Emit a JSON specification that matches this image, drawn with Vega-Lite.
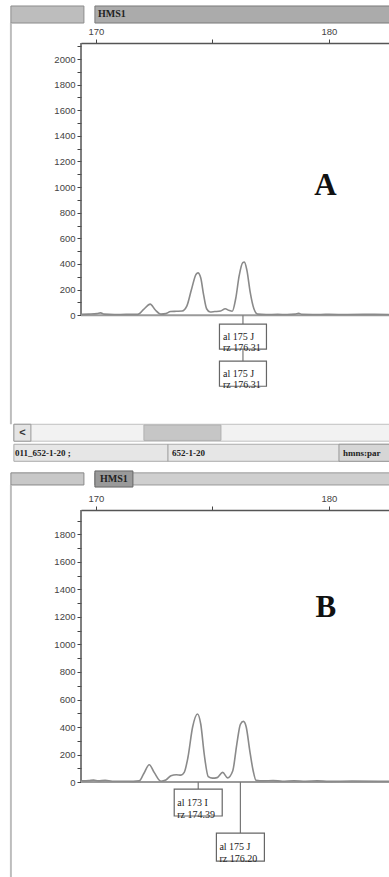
{
  "$schema": "https://vega.github.io/schema/vega-lite/v6.json",
  "background": "white",
  "padding": {"left": 9, "top": 5, "right": 0, "bottom": 0},
  "spacing": 8,
  "config": {
    "view": {"stroke": null},
    "axis": {"grid": false, "labelFont": "Liberation Sans", "labelFontSize": 9.5, "labelColor": "#444", "tickColor": "#444", "domainColor": "#555", "labelOverlap": false, "labelBound": false}
  },
  "datasets": {
    "traceA": [
      {"s": 169.40, "rfu": 6}, {"s": 169.70, "rfu": 8}, {"s": 170.05, "rfu": 12}, {"s": 170.20, "rfu": 18},
      {"s": 170.35, "rfu": 8}, {"s": 170.80, "rfu": 5}, {"s": 171.30, "rfu": 6}, {"s": 171.79, "rfu": 6},
      {"s": 172.05, "rfu": 45}, {"s": 172.33, "rfu": 86}, {"s": 172.55, "rfu": 40}, {"s": 172.79, "rfu": 8},
      {"s": 173.00, "rfu": 12}, {"s": 173.20, "rfu": 28}, {"s": 173.45, "rfu": 30}, {"s": 173.70, "rfu": 32},
      {"s": 173.90, "rfu": 70}, {"s": 174.10, "rfu": 200}, {"s": 174.30, "rfu": 320}, {"s": 174.38, "rfu": 330},
      {"s": 174.50, "rfu": 290}, {"s": 174.62, "rfu": 160}, {"s": 174.75, "rfu": 50}, {"s": 174.90, "rfu": 25},
      {"s": 175.10, "rfu": 28}, {"s": 175.35, "rfu": 32}, {"s": 175.55, "rfu": 50}, {"s": 175.70, "rfu": 38},
      {"s": 175.85, "rfu": 30}, {"s": 176.00, "rfu": 130}, {"s": 176.15, "rfu": 310}, {"s": 176.30, "rfu": 410},
      {"s": 176.37, "rfu": 414}, {"s": 176.48, "rfu": 350}, {"s": 176.62, "rfu": 180}, {"s": 176.78, "rfu": 50},
      {"s": 176.94, "rfu": 8}, {"s": 177.30, "rfu": 5}, {"s": 177.80, "rfu": 6}, {"s": 178.20, "rfu": 5},
      {"s": 178.55, "rfu": 8}, {"s": 178.70, "rfu": 14}, {"s": 178.85, "rfu": 6}, {"s": 179.30, "rfu": 5},
      {"s": 180.00, "rfu": 6}, {"s": 180.80, "rfu": 5}, {"s": 181.50, "rfu": 6}, {"s": 182.60, "rfu": 5}
    ],
    "traceB": [
      {"s": 169.40, "rfu": 8}, {"s": 169.70, "rfu": 10}, {"s": 169.90, "rfu": 14}, {"s": 170.10, "rfu": 8},
      {"s": 170.40, "rfu": 12}, {"s": 170.70, "rfu": 6}, {"s": 171.20, "rfu": 6}, {"s": 171.60, "rfu": 5},
      {"s": 171.86, "rfu": 8}, {"s": 172.05, "rfu": 60}, {"s": 172.29, "rfu": 126}, {"s": 172.50, "rfu": 70},
      {"s": 172.79, "rfu": 6}, {"s": 173.00, "rfu": 15}, {"s": 173.22, "rfu": 45}, {"s": 173.45, "rfu": 53},
      {"s": 173.65, "rfu": 50}, {"s": 173.79, "rfu": 70}, {"s": 173.95, "rfu": 180}, {"s": 174.15, "rfu": 400},
      {"s": 174.36, "rfu": 495}, {"s": 174.50, "rfu": 420}, {"s": 174.65, "rfu": 200}, {"s": 174.82, "rfu": 40},
      {"s": 175.00, "rfu": 28}, {"s": 175.20, "rfu": 32}, {"s": 175.44, "rfu": 70}, {"s": 175.65, "rfu": 30},
      {"s": 175.87, "rfu": 80}, {"s": 176.05, "rfu": 280}, {"s": 176.20, "rfu": 420}, {"s": 176.33, "rfu": 441},
      {"s": 176.45, "rfu": 400}, {"s": 176.60, "rfu": 230}, {"s": 176.75, "rfu": 80}, {"s": 176.87, "rfu": 12},
      {"s": 177.20, "rfu": 8}, {"s": 177.60, "rfu": 10}, {"s": 178.00, "rfu": 6}, {"s": 178.50, "rfu": 9},
      {"s": 179.00, "rfu": 6}, {"s": 179.50, "rfu": 8}, {"s": 180.00, "rfu": 5}, {"s": 181.00, "rfu": 7},
      {"s": 182.60, "rfu": 5}
    ],
    "callsA": [
      {"size": 176.31, "label": "al 175 J\nrz 176.31", "level": 1},
      {"size": 176.31, "label": "al 175 J\nrz 176.31", "level": 2}
    ],
    "callsB": [
      {"size": 174.39, "label": "al 173 I\nrz 174.39", "level": 1},
      {"size": 176.20, "label": "al 175 J\nrz 176.20", "level": 2}
    ],
    "frameA": [{"panel": "A"}],
    "frameB": [{"panel": "B"}]
  },
  "vconcat": [
    {
      "width": 309,
      "height": 349,
      "data": {"name": "frameA"},
      "layer": [
        {"mark": {"type": "rect", "fill": "#bdbdbd", "stroke": "#8c8c8c", "strokeWidth": 1},
         "encoding": {"x": {"datum": 166.352}, "x2": {"datum": 169.485}, "y": {"datum": 2414}, "y2": {"datum": 2281}}},
        {"mark": {"type": "rect", "fill": "#ababab", "stroke": "#7a7a7a", "strokeWidth": 1},
         "encoding": {"x": {"datum": 169.957}, "x2": {"datum": 182.62}, "y": {"datum": 2414}, "y2": {"datum": 2281}}},
        {"mark": {"type": "text", "text": "HMS1", "align": "left", "baseline": "middle", "font": "Liberation Serif", "fontSize": 10, "fontWeight": "bold", "color": "#222"},
         "encoding": {"x": {"datum": 170.09}, "y": {"datum": 2348}}},
        {"mark": {"type": "rule", "color": "#bdbdbd", "strokeWidth": 2},
         "encoding": {"x": {"datum": 166.352}, "y": {"datum": 2281}, "y2": {"datum": -852}}},
        {"mark": {"type": "rect", "fill": "#f2f2f2", "stroke": "#c0c0c0", "strokeWidth": 1},
         "encoding": {"x": {"datum": 166.48}, "x2": {"datum": 182.62}, "y": {"datum": -852}, "y2": {"datum": -984}}},
        {"mark": {"type": "rect", "fill": "#e4e4e4", "stroke": "#999", "strokeWidth": 1},
         "encoding": {"x": {"datum": 166.48}, "x2": {"datum": 167.21}, "y": {"datum": -852}, "y2": {"datum": -984}}},
        {"mark": {"type": "text", "text": "<", "align": "center", "baseline": "middle", "font": "Liberation Sans", "fontSize": 11, "fontWeight": "bold", "color": "#333"},
         "encoding": {"x": {"datum": 166.85}, "y": {"datum": -918}}},
        {"mark": {"type": "rect", "fill": "#c6c6c6", "stroke": "#b0b0b0", "strokeWidth": 1},
         "encoding": {"x": {"datum": 172.06}, "x2": {"datum": 175.365}, "y": {"datum": -858}, "y2": {"datum": -978}}},
        {"mark": {"type": "rect", "fill": "#e6e6e6", "stroke": "#aaa", "strokeWidth": 1},
         "encoding": {"x": {"datum": 166.48}, "x2": {"datum": 182.62}, "y": {"datum": -1008}, "y2": {"datum": -1141}}},
        {"mark": {"type": "rect", "fill": "#d6d6d6", "stroke": "#999", "strokeWidth": 1},
         "encoding": {"x": {"datum": 180.43}, "x2": {"datum": 182.62}, "y": {"datum": -1008}, "y2": {"datum": -1141}}},
        {"mark": {"type": "rule", "color": "#999", "strokeWidth": 1},
         "encoding": {"x": {"datum": 173.09}, "y": {"datum": -1008}, "y2": {"datum": -1141}}},
        {"mark": {"type": "text", "text": "011_652-1-20 ;", "align": "left", "baseline": "middle", "font": "Liberation Serif", "fontSize": 9, "fontWeight": "bold", "color": "#222"},
         "encoding": {"x": {"datum": 166.53}, "y": {"datum": -1074}}},
        {"mark": {"type": "text", "text": "652-1-20", "align": "left", "baseline": "middle", "font": "Liberation Serif", "fontSize": 9, "fontWeight": "bold", "color": "#222"},
         "encoding": {"x": {"datum": 173.26}, "y": {"datum": -1074}}},
        {"mark": {"type": "text", "text": "hmns:par", "align": "left", "baseline": "middle", "font": "Liberation Serif", "fontSize": 9, "fontWeight": "bold", "color": "#222"},
         "encoding": {"x": {"datum": 180.6}, "y": {"datum": -1074}}},
        {"mark": {"type": "rule", "color": "#555", "strokeWidth": 1.5},
         "encoding": {"x": {"datum": 169.36}, "y": {"datum": 0}, "y2": {"datum": 2125}}},
        {"mark": {"type": "rule", "color": "#9a9a9a", "strokeWidth": 2},
         "encoding": {"x": {"datum": 169.36}, "x2": {"datum": 182.62}, "y": {"datum": 0}}},
        {"data": {"name": "traceA"},
         "mark": {"type": "line", "color": "#8a8a8a", "strokeWidth": 1.6, "interpolate": "monotone"},
         "encoding": {
           "x": {"field": "s", "type": "quantitative", "title": null,
                 "scale": {"domain": [169.36, 182.62], "nice": false, "zero": false, "padding": 0},
                 "axis": {"orient": "top", "values": [170, 175, 180], "tickCount": 100, "format": "d", "labelExpr": "datum.value % 10 === 0 ? datum.label : ''", "labelOverlap": false, "tickSize": 4, "domainWidth": 1.5, "labelPadding": 3}},
           "y": {"field": "rfu", "type": "quantitative", "title": null,
                 "scale": {"domain": [-600, 2125], "nice": false, "zero": false, "padding": 0},
                 "axis": {"values": [0, 100, 200, 300, 400, 500, 600, 700, 800, 900, 1000, 1100, 1200, 1300, 1400, 1500, 1600, 1700, 1800, 1900, 2000, 2100], "tickCount": 100, "labelExpr": "datum.value % 200 === 0 ? datum.label : ''", "labelOverlap": false, "format": "d", "domain": false, "tickSize": 4, "labelPadding": 2}}
         }},
        {"data": {"name": "callsA"}, "transform": [{"filter": "datum.level === 1"}],
         "mark": {"type": "rule", "color": "#777", "strokeWidth": 1.2},
         "encoding": {"x": {"field": "size", "type": "quantitative"}, "y": {"datum": 0}, "y2": {"datum": -70}}},
        {"data": {"name": "callsA"}, "transform": [{"filter": "datum.level === 2"}],
         "mark": {"type": "rule", "color": "#777", "strokeWidth": 1.2},
         "encoding": {"x": {"field": "size", "type": "quantitative"}, "y": {"datum": -266}, "y2": {"datum": -359}}},
        {"data": {"name": "callsA"}, "transform": [{"filter": "datum.level === 1"}],
         "mark": {"type": "bar", "orient": "vertical", "width": 47, "fill": "white", "stroke": "#666", "strokeWidth": 1.2},
         "encoding": {"x": {"field": "size", "type": "quantitative"}, "y": {"datum": -70}, "y2": {"datum": -266}}},
        {"data": {"name": "callsA"}, "transform": [{"filter": "datum.level === 2"}],
         "mark": {"type": "bar", "orient": "vertical", "width": 47, "fill": "white", "stroke": "#666", "strokeWidth": 1.2},
         "encoding": {"x": {"field": "size", "type": "quantitative"}, "y": {"datum": -359}, "y2": {"datum": -555}}},
        {"data": {"name": "callsA"}, "transform": [{"filter": "datum.level === 1"}],
         "mark": {"type": "text", "align": "left", "dx": -20, "baseline": "middle", "lineBreak": "\n", "lineHeight": 11, "font": "Liberation Serif", "fontSize": 10, "color": "#222"},
         "encoding": {"x": {"field": "size", "type": "quantitative"}, "y": {"datum": -168}, "text": {"field": "label"}}},
        {"data": {"name": "callsA"}, "transform": [{"filter": "datum.level === 2"}],
         "mark": {"type": "text", "align": "left", "dx": -20, "baseline": "middle", "lineBreak": "\n", "lineHeight": 11, "font": "Liberation Serif", "fontSize": 10, "color": "#222"},
         "encoding": {"x": {"field": "size", "type": "quantitative"}, "y": {"datum": -457}, "text": {"field": "label"}}},
        {"mark": {"type": "text", "text": "A", "align": "center", "baseline": "middle", "font": "Liberation Serif", "fontSize": 31, "fontWeight": "bold", "color": "#111"},
         "encoding": {"x": {"datum": 179.85}, "y": {"datum": 1008}}}
      ]
    },
    {
      "width": 309,
      "height": 357,
      "data": {"name": "frameB"},
      "layer": [
        {"mark": {"type": "rect", "fill": "#c8c8c8", "stroke": "#888", "strokeWidth": 1},
         "encoding": {"x": {"datum": 166.352}, "x2": {"datum": 169.485}, "y": {"datum": 2248}, "y2": {"datum": 2160}}},
        {"mark": {"type": "rect", "fill": "#cfcfcf", "stroke": "#999", "strokeWidth": 1},
         "encoding": {"x": {"datum": 169.957}, "x2": {"datum": 182.62}, "y": {"datum": 2248}, "y2": {"datum": 2160}}},
        {"mark": {"type": "rect", "fill": "#9a9a9a", "stroke": "#666", "strokeWidth": 1},
         "encoding": {"x": {"datum": 169.957}, "x2": {"datum": 171.588}, "y": {"datum": 2262}, "y2": {"datum": 2145}}},
        {"mark": {"type": "text", "text": "HMS1", "align": "center", "baseline": "middle", "font": "Liberation Serif", "fontSize": 10, "fontWeight": "bold", "color": "#222"},
         "encoding": {"x": {"datum": 170.77}, "y": {"datum": 2204}}},
        {"mark": {"type": "rule", "color": "#bdbdbd", "strokeWidth": 2},
         "encoding": {"x": {"datum": 166.352}, "y": {"datum": 2160}, "y2": {"datum": -713}}},
        {"mark": {"type": "rule", "color": "#555", "strokeWidth": 1.5},
         "encoding": {"x": {"datum": 169.36}, "y": {"datum": 0}, "y2": {"datum": 1978}}},
        {"mark": {"type": "rule", "color": "#9a9a9a", "strokeWidth": 2},
         "encoding": {"x": {"datum": 169.36}, "x2": {"datum": 182.62}, "y": {"datum": 0}}},
        {"data": {"name": "traceB"},
         "mark": {"type": "line", "color": "#8a8a8a", "strokeWidth": 1.6, "interpolate": "monotone"},
         "encoding": {
           "x": {"field": "s", "type": "quantitative", "title": null,
                 "scale": {"domain": [169.36, 182.62], "nice": false, "zero": false, "padding": 0},
                 "axis": {"orient": "top", "values": [170, 175, 180], "tickCount": 100, "format": "d", "labelExpr": "datum.value % 10 === 0 ? datum.label : ''", "labelOverlap": false, "tickSize": 4, "domainWidth": 1.5, "labelPadding": 3}},
           "y": {"field": "rfu", "type": "quantitative", "title": null,
                 "scale": {"domain": [-618, 1978], "nice": false, "zero": false, "padding": 0},
                 "axis": {"values": [0, 100, 200, 300, 400, 500, 600, 700, 800, 900, 1000, 1100, 1200, 1300, 1400, 1500, 1600, 1700, 1800, 1900], "tickCount": 100, "labelExpr": "datum.value % 200 === 0 ? datum.label : ''", "labelOverlap": false, "format": "d", "domain": false, "tickSize": 4, "labelPadding": 2}}
         }},
        {"data": {"name": "callsB"}, "transform": [{"filter": "datum.level === 1"}],
         "mark": {"type": "rule", "color": "#777", "strokeWidth": 1.2},
         "encoding": {"x": {"field": "size", "type": "quantitative"}, "y": {"datum": 0}, "y2": {"datum": -51}}},
        {"data": {"name": "callsB"}, "transform": [{"filter": "datum.level === 2"}],
         "mark": {"type": "rule", "color": "#777", "strokeWidth": 1.2},
         "encoding": {"x": {"field": "size", "type": "quantitative"}, "y": {"datum": 0}, "y2": {"datum": -371}}},
        {"data": {"name": "callsB"}, "transform": [{"filter": "datum.level === 1"}],
         "mark": {"type": "bar", "orient": "vertical", "width": 48, "fill": "white", "stroke": "#666", "strokeWidth": 1.2},
         "encoding": {"x": {"field": "size", "type": "quantitative"}, "y": {"datum": -51}, "y2": {"datum": -247}}},
        {"data": {"name": "callsB"}, "transform": [{"filter": "datum.level === 2"}],
         "mark": {"type": "bar", "orient": "vertical", "width": 48, "fill": "white", "stroke": "#666", "strokeWidth": 1.2},
         "encoding": {"x": {"field": "size", "type": "quantitative"}, "y": {"datum": -371}, "y2": {"datum": -575}}},
        {"data": {"name": "callsB"}, "transform": [{"filter": "datum.level === 1"}],
         "mark": {"type": "text", "align": "left", "dx": -21, "baseline": "middle", "lineBreak": "\n", "lineHeight": 12, "font": "Liberation Serif", "fontSize": 10, "color": "#222"},
         "encoding": {"x": {"field": "size", "type": "quantitative"}, "y": {"datum": -149}, "text": {"field": "label"}}},
        {"data": {"name": "callsB"}, "transform": [{"filter": "datum.level === 2"}],
         "mark": {"type": "text", "align": "left", "dx": -21, "baseline": "middle", "lineBreak": "\n", "lineHeight": 12, "font": "Liberation Serif", "fontSize": 10, "color": "#222"},
         "encoding": {"x": {"field": "size", "type": "quantitative"}, "y": {"datum": -473}, "text": {"field": "label"}}},
        {"mark": {"type": "text", "text": "B", "align": "center", "baseline": "middle", "font": "Liberation Serif", "fontSize": 31, "fontWeight": "bold", "color": "#111"},
         "encoding": {"x": {"datum": 179.87}, "y": {"datum": 1265}}}
      ]
    }
  ]
}
